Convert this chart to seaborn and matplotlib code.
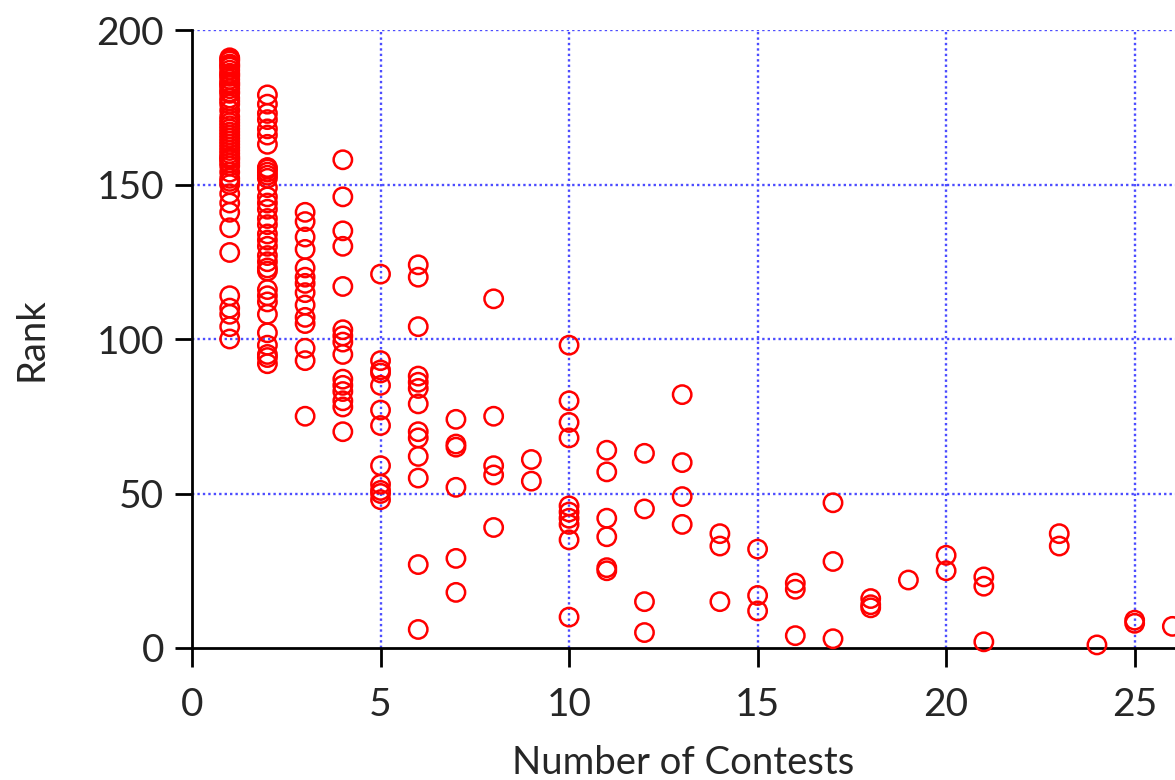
import pandas as pd
import matplotlib
matplotlib.use('Agg')
import matplotlib.pyplot as plt
import seaborn as sns

# rank values, grouped by number of contests
c1 = [191, 190.5, 190, 189, 188.5, 188, 187, 186, 185.5, 185, 184, 183, 182.5, 182,
      181, 180, 179.5, 178, 177, 176, 174, 172, 171, 170, 169, 168, 167, 166, 165, 164,
      163, 162, 161, 160, 159, 158.5, 158, 157, 156, 154, 152, 151, 150, 147, 144, 141,
      136, 128, 114, 110, 108, 104, 100]
c2 = [179, 176, 173, 171, 168, 166, 163, 155.5, 155, 154, 153, 152, 149, 146, 144, 142,
      139, 137, 134, 132, 130, 127, 125, 123, 122, 116, 114, 112, 108, 102, 98, 95, 94, 92]
c3 = [141, 138, 133, 129, 123, 120, 118, 115, 111, 107, 105, 97, 93, 75]
c4 = [158, 146, 135, 130, 117, 103, 101, 99, 95, 87, 85, 83, 80, 78, 70]
c5 = [121, 93, 90, 89, 85, 77, 72, 59, 53, 51, 50, 48]
c6 = [124, 120, 104, 88, 86, 84, 79, 70, 68, 62, 55, 27, 6]
c7 = [74, 66, 65, 52, 29, 18]
c8 = [113, 75, 59, 56, 39]
c9 = [61, 54]
c10 = [98, 80, 73, 68, 46, 44, 42, 40, 35, 10]
c11 = [64, 57, 42, 36, 26, 25]
c12 = [63, 45, 15, 5]
c13 = [82, 60, 49, 40]
c14 = [37, 33, 15]
c15 = [32, 17, 12]
c16 = [21, 19, 4]
c17 = [47, 28, 3]
c18 = [16, 14, 13]
c19 = [22]
c20 = [30, 25]
c21 = [23, 20, 2]
c23 = [37, 33]
c24 = [1]
c25 = [9, 8]
c26 = [7]

groups = [(1, c1), (2, c2), (3, c3), (4, c4), (5, c5), (6, c6), (7, c7), (8, c8),
          (9, c9), (10, c10), (11, c11), (12, c12), (13, c13), (14, c14), (15, c15),
          (16, c16), (17, c17), (18, c18), (19, c19), (20, c20), (21, c21),
          (23, c23), (24, c24), (25, c25), (26, c26)]

rows = [(n, r) for n, vals in groups for r in vals]
df = pd.DataFrame(rows, columns=['contests', 'rank'])

sns.set_style('white')
plt.rcParams['font.family'] = ['Lato', 'DejaVu Sans']

fig = plt.figure(figsize=(11.75, 7.8), dpi=100)
ax = fig.add_axes([192 / 1175, 132 / 780, 1 - 192 / 1175, 618 / 780])

sns.scatterplot(data=df, x='contests', y='rank', ax=ax, marker='o', s=175,
                facecolor='none', edgecolor='#ff0000', linewidth=1.8,
                clip_on=False, zorder=5, legend=False)

ax.set_xlim(0, 26.07)
ax.set_ylim(0, 200)
ax.set_xticks([0, 5, 10, 15, 20, 25])
ax.set_yticks([0, 50, 100, 150, 200])

# dotted blue grid, no line at zero
for v in [5, 10, 15, 20, 25]:
    ax.axvline(v, color='#4c4cff', linestyle=(0, (1, 1.3)), linewidth=1.7, zorder=1)
for v in [50, 100, 150, 200]:
    ax.axhline(v, color='#4c4cff', linestyle=(0, (1, 1.3)), linewidth=1.7, zorder=1)

sns.despine(ax=ax, top=True, right=True)
for side in ['left', 'bottom']:
    ax.spines[side].set_linewidth(2)
    ax.spines[side].set_color('black')
    ax.spines[side].set_zorder(3)

ax.tick_params(axis='both', direction='out', width=2, color='black',
               labelsize=28, bottom=True, left=True)
ax.tick_params(axis='x', length=14, pad=14)
ax.tick_params(axis='y', length=12, pad=8)

ax.set_xlabel('Number of Contests', fontsize=27.5, labelpad=16)
ax.set_ylabel('Rank', fontsize=27.5, labelpad=34)

fig.savefig('out.png', dpi=100)
